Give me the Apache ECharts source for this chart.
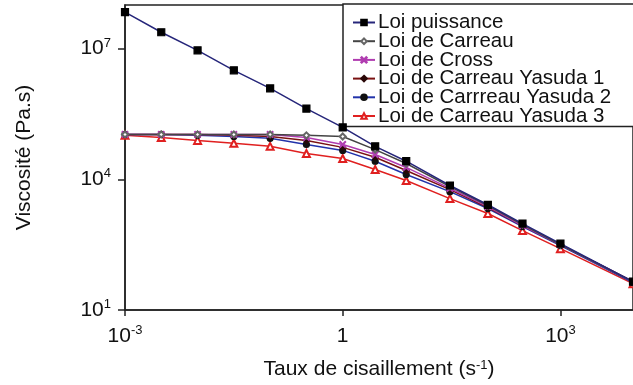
<!DOCTYPE html>
<html><head><meta charset="utf-8">
<script src="https://cdn.jsdelivr.net/npm/echarts@6/dist/echarts.min.js"></script>
<style>html,body{margin:0;padding:0;background:#fff}#c{width:633px;height:385px}</style>
</head><body><div id="c"></div>
<script>
// Shear rate (s^-1)
const shearRate = [0.001, 0.00316, 0.01, 0.0316, 0.1, 0.316, 1, 2.8, 7.5, 30, 100, 300, 1000, 10000];
// Viscosity (Pa.s)
const loiPuissance = [6.84e7, 2.37e7, 9.1e6, 3.17e6, 1.22e6, 4.2e5, 1.55e5, 5.7e4, 2.6e4, 7.2e3, 2.6e3, 964, 334, 44.8];
const loiCarreau   = [1.07e5, 1.07e5, 1.07e5, 1.07e5, 1.07e5, 1.02e5, 9.6e4, 4.8e4, 2.3e4, 6.8e3, 2.5e3, 914, 317, 44.8];
const loiCross     = [1.07e5, 1.07e5, 1.07e5, 1.07e5, 1.07e5, 9.1e4, 6.3e4, 3.7e4, 1.87e4, 6.2e3, 2.37e3, 867, 317, 44.8];
const loiYasuda1   = [1.07e5, 1.07e5, 1.07e5, 1.02e5, 9.6e4, 7.8e4, 5.4e4, 3.2e4, 1.59e4, 5.8e3, 2.25e3, 867, 317, 44.8];
const loiYasuda2   = [1.07e5, 1.07e5, 1.02e5, 9.6e4, 8.7e4, 6.3e4, 4.6e4, 2.6e4, 1.29e4, 5.2e3, 2.13e3, 822, 301, 42.5];
const loiYasuda3   = [1.02e5, 9.1e4, 7.8e4, 6.7e4, 5.7e4, 3.9e4, 3.0e4, 1.68e4, 9.4e3, 3.6e3, 1.64e3, 665, 256, 40.3];
const seriesNames = ['Loi puissance', 'Loi de Carreau', 'Loi de Cross', 'Loi de Carreau Yasuda 1', 'Loi de Carrreau Yasuda 2', 'Loi de Carreau Yasuda 3'];
const xTickValues = [0.001, 1, 1000];
const yTickValues = [10, 1e4, 1e7];
const xTitle = 'Taux de cisaillement (s{sup|-1})';
const yTitle = 'Viscosité (Pa.s)';

const FONT = 'Liberation Sans, Arial, sans-serif';
const crossPath = 'path://M0,1L1,0L5,4L9,0L10,1L6,5L10,9L9,10L5,6L1,10L0,9L4,5Z';
const pair = (ys) => shearRate.map((x, i) => [x, ys[i]]);
const expLabel = (v) => {
  const e = Math.round(Math.log10(v));
  if (e === 0) return '{b|1}';
  return '{b|10}{s|' + e + '}';
};
const richLbl = {
  b: {fontSize: 21, fontFamily: FONT, color: '#111', lineHeight: 24},
  s: {fontSize: 13, fontFamily: FONT, color: '#111', verticalAlign: 'top', lineHeight: 13}
};

const styles = [
  {line: '#26267a', sym: 'rect', size: 7, item: '#000', border: '#000'},
  {line: '#444444', sym: 'emptyDiamond', size: 6, item: '#666', border: '#666'},
  {line: '#b03cb0', sym: crossPath, size: 6, item: '#b03cb0', border: '#b03cb0'},
  {line: '#7a1212', sym: 'diamond', size: 6, item: '#2a0808', border: '#2a0808'},
  {line: '#2233aa', sym: 'circle', size: 6, item: '#111', border: '#111'},
  {line: '#e02020', sym: 'emptyTriangle', size: 7, item: '#e02020', border: '#e02020'}
];
const dataSets = [loiPuissance, loiCarreau, loiCross, loiYasuda1, loiYasuda2, loiYasuda3];

const series = dataSets.map((d, i) => ({
  name: seriesNames[i],
  type: 'line',
  data: pair(d),
  symbol: styles[i].sym,
  symbolSize: styles[i].size,
  showAllSymbol: true,
  lineStyle: {color: styles[i].line, width: 1.5},
  itemStyle: {color: styles[i].item, borderColor: styles[i].border, borderWidth: 1.2},
  z: 10 - i,
  animation: false
}));

const chart = echarts.init(document.getElementById('c'));
chart.setOption({
  animation: false,
  backgroundColor: '#fff',
  grid: {left: 125, top: 5, width: 510, height: 305.5, show: true, borderColor: '#222', borderWidth: 1.5, backgroundColor: 'transparent'},
  legend: {
    orient: 'vertical', left: 343, top: 4,
    itemWidth: 22, itemHeight: 7, itemGap: -2.3,
    padding: [8, 30, 0, 9],
    borderColor: '#222', borderWidth: 1.5, backgroundColor: '#fff',
    textStyle: {fontSize: 20.5, fontFamily: FONT, color: '#111', padding: [0, 0, 0, -2]},
    data: seriesNames
  },
  xAxis: {
    type: 'log', logBase: 10, min: 0.001, max: 10000,
    name: xTitle, nameLocation: 'middle', nameGap: 49,
    nameTextStyle: {fontSize: 21, fontFamily: FONT, color: '#111',
      rich: {sup: {fontSize: 13, fontFamily: FONT, color: '#111', verticalAlign: 'top', lineHeight: 13}}},
    axisLine: {lineStyle: {color: '#222', width: 1.5}},
    axisTick: {show: true, inside: false, length: 6, lineStyle: {color: '#222', width: 1.5}, customValues: xTickValues},
    axisLabel: {margin: 14, formatter: expLabel, rich: richLbl, customValues: xTickValues},
    splitLine: {show: false}, minorTick: {show: false}
  },
  yAxis: {
    type: 'log', logBase: 10, min: 10, max: 1e8,
    name: yTitle, nameLocation: 'middle', nameGap: 90,
    nameTextStyle: {fontSize: 21, fontFamily: FONT, color: '#111'},
    axisLine: {lineStyle: {color: '#222', width: 1.5}},
    axisTick: {show: true, inside: false, length: 7, lineStyle: {color: '#222', width: 1.5}, customValues: yTickValues},
    axisLabel: {margin: 14, formatter: expLabel, rich: richLbl, customValues: yTickValues},
    splitLine: {show: false}, minorTick: {show: false}
  },
  series: series
});
</script></body></html>
